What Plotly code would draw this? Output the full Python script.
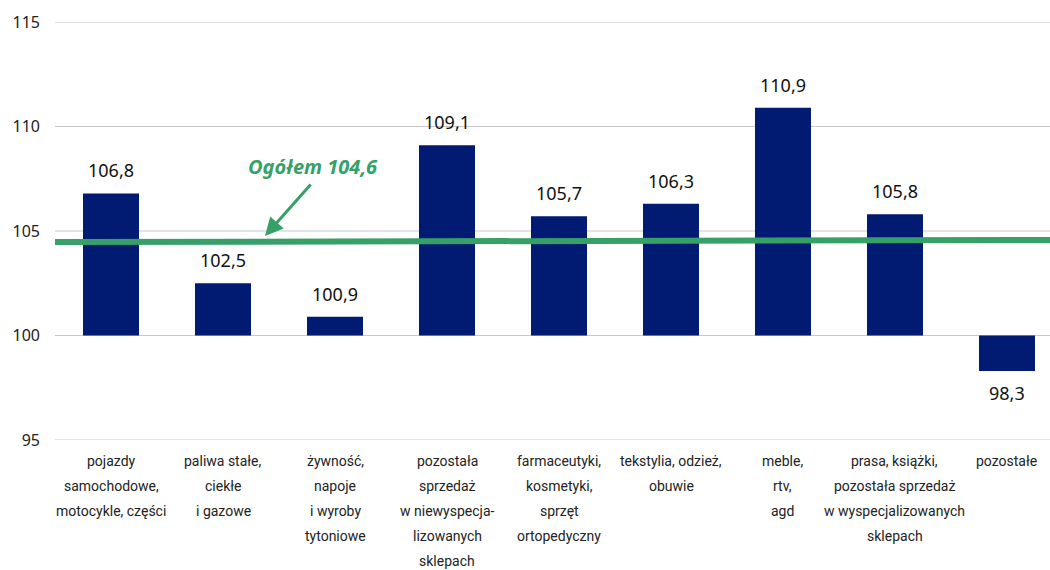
import plotly.graph_objects as go

categories = [
    "pojazdy\nsamochodowe,\nmotocykle, części",
    "paliwa stałe,\nciekłe\ni gazowe",
    "żywność,\nnapoje\ni wyroby\ntytoniowe",
    "pozostała\nsprzedaż\nw niewyspecja-\nlizowanych\nsklepach",
    "farmaceutyki,\nkosmetyki,\nsprzęt\nortopedyczny",
    "tekstylia, odzież,\nobuwie",
    "meble,\nrtv,\nagd",
    "prasa, książki,\npozostała sprzedaż\nw wyspecjalizowanych\nsklepach",
    "pozostałe",
]
values = [106.8, 102.5, 100.9, 109.1, 105.7, 106.3, 110.9, 105.8, 98.3]
base_value = 100
ogolem = 104.6
ogolem_line = [104.47, 104.57]  # as drawn (slightly tilted) in the source
y_ticks = [95, 100, 105, 110, 115]

BAR = "#001B71"
GREEN = "#36A068"
FONT = "Noto Sans"

x = list(range(len(categories)))
fig = go.Figure()
fig.add_trace(go.Bar(
    x=x, y=[v - base_value for v in values], base=base_value,
    marker=dict(color=BAR, line=dict(width=0)), width=0.5,
    hoverinfo="skip",
))

for t in y_ticks:
    fig.add_shape(type="line", xref="paper", yref="y", x0=0, x1=1, y0=t, y1=t,
                  line=dict(color="#C8C8C8", width=1), layer="below")

annotations = []
for i, v in enumerate(values):
    annotations.append(dict(
        x=i, y=v, xref="x", yref="y", showarrow=False,
        text=f"{v:.1f}".replace(".", ","),
        yshift=23 if v >= base_value else -22,
        font=dict(family=FONT, size=18, color="#111"),
    ))
    for j, line in enumerate(categories[i].split("\n")):
        annotations.append(dict(
            x=i, y=0, xref="x", yref="paper", showarrow=False,
            text=line, yanchor="middle", yshift=-(21 + 25 * j),
            font=dict(family="Roboto", size=14, color="#222"),
        ))

# label + arrow
annotations.append(dict(
    x=1.80, y=108.08, xref="x", yref="y", showarrow=False,
    text=f"<b><i>Ogółem {ogolem:.1f}</i></b>".replace(".", ","),
    font=dict(family=FONT, size=20, color=GREEN),
))
annotations.append(dict(
    x=1.375, y=104.76, xref="x", yref="y", showarrow=True,
    ax=47, ay=-53, text="", arrowhead=2, arrowsize=1.2, arrowwidth=3,
    arrowcolor=GREEN,
))

fig.add_shape(type="line", xref="paper", yref="y", x0=0, x1=1,
              y0=ogolem_line[0], y1=ogolem_line[1],
              line=dict(color=GREEN, width=6), layer="above")

fig.update_layout(
    width=1050, height=570,
    margin=dict(l=55, r=0, t=22, b=130),
    paper_bgcolor="white", plot_bgcolor="white",
    showlegend=False,
    annotations=annotations,
    xaxis=dict(range=[-0.5, 8.384], showticklabels=False, showgrid=False,
               zeroline=False, showline=False, ticks=""),
    yaxis=dict(range=[95, 115], tickvals=y_ticks, showgrid=False,
               zeroline=False, showline=False, ticks="", ticklabelstandoff=14,
               tickfont=dict(family=FONT, size=16, color="#222")),
)

fig.write_html("out.html", config={"displayModeBar": False},
               post_script="document.body.style.margin='0';")
